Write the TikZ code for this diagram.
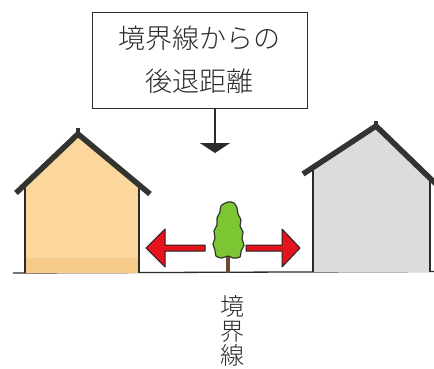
\documentclass[tikz,border=0pt]{standalone}
\usepackage{fontspec}
\newfontfamily\jp{Noto Sans CJK JP}[UprightFont=* Light]
\usetikzlibrary{arrows.meta}
\definecolor{ink}{HTML}{2B2B2B}
\definecolor{roof}{HTML}{33332F}
\definecolor{wallA}{HTML}{FCD79D}
\definecolor{wallAlow}{HTML}{F6CB89}
\definecolor{wallB}{HTML}{DCDCDE}
\definecolor{leaf}{HTML}{7CC634}
\definecolor{trunk}{HTML}{6A4A2C}
\definecolor{arrowred}{HTML}{E3141C}
\tikzset{
  wall/.style={draw=ink, line width=1.1pt},
  roofline/.style={draw=roof, line width=5.5pt, line cap=butt, line join=miter},
  label/.style={font=\jp, text=ink},
  redarrow/.style={fill=arrowred, draw=ink!80!black, line width=1pt, line join=round},
}
\begin{document}
\begin{tikzpicture}[x=1pt, y=-1pt]
\useasboundingbox (0,0) rectangle (434,368);

% caption box with pointer
\node[draw=ink, line width=1pt, fill=white, minimum width=215pt, minimum height=96pt,
      inner sep=0pt, label, align=center, font=\jp\fontsize{27}{43}\selectfont]
  (box) at (199.5,60) {境界線からの\\後退距離};
\coordinate (tip) at (215,153);
\draw[ink, line width=1.6pt, -{Triangle[width=30pt,length=10pt]}] (box.south -| tip) -- (tip);

% ground
\draw[ink, line width=1.3pt] (13,273) -- (434,271.5);

% left house
\fill[wallA] (25,273) -- (25,186) -- (78,136) -- (139,188) -- (139,273) -- cycle;
\fill[wallAlow] (25,258) rectangle (139,273);
\draw[wall] (25,273) -- (25,186);
\draw[wall] (139,273) -- (139,188);
\draw[roofline] (16,193) -- (78,134) -- (150,194);
\draw[roof, line width=4pt] (78,136) -- (78,128);

% right house
\fill[wallB] (313,272) -- (313,167) -- (376,128) -- (430,180) -- (430,272) -- cycle;
\draw[wall] (313,272) -- (313,167);
\draw[wall] (430,272) -- (430,180);
\draw[roofline] (303,174) -- (376,126) -- (436,184);
\draw[roof, line width=4pt] (376,128) -- (376,121);

% tree
\draw[trunk, line width=3.2pt] (228,273) -- (228,252);
\draw[fill=leaf, draw=roof, line width=1.2pt]
  plot[smooth cycle, tension=0.6] coordinates {
    (228,202) (234,203) (237,208) (238,214) (241,220) (240,226) (243,232)
    (242,239) (244,245) (241,251) (240,257) (233,258) (228,256) (222,258)
    (216,256) (215,250) (213,244) (215,238) (214,231) (217,225) (217,218)
    (220,212) (221,206) };

% red arrows
\draw[redarrow] (146,248) -- (165,229) -- (165,245) -- (205,245) -- (205,251)
  -- (165,251) -- (165,267) -- cycle;
\draw[redarrow] (300,248) -- (282,229) -- (282,245) -- (246,245) -- (246,251)
  -- (282,251) -- (282,267) -- cycle;

% boundary caption, set vertically
\node[label, align=center, inner sep=0pt, font=\jp\fontsize{24}{24.5}\selectfont]
  (bound) at (232,331) {境\\界\\線};
\end{tikzpicture}
\end{document}
